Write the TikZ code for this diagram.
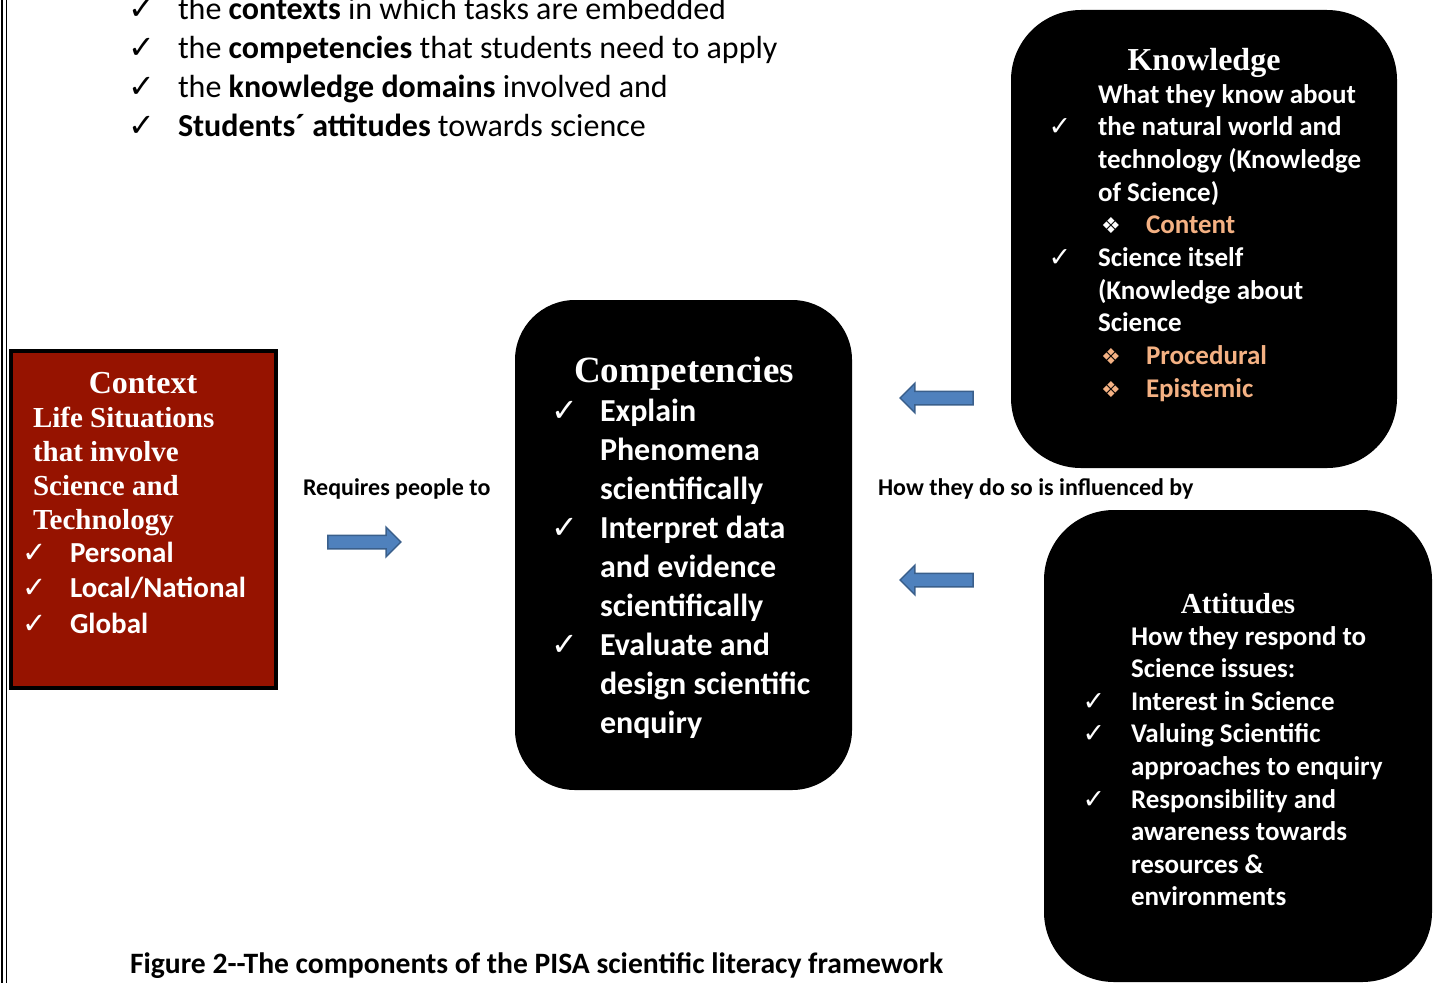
\documentclass[tikz,border=0pt]{standalone}
\usepackage{fontspec}
\setmainfont{Carlito}
\newfontfamily\tnr{Liberation Serif}
\newfontfamily\djv{DejaVu Sans}
\usetikzlibrary{shapes.arrows}
\definecolor{ctxred}{HTML}{961300}
\definecolor{peach}{HTML}{F4B183}
\definecolor{arrfill}{HTML}{4F81BD}
\definecolor{arrdraw}{HTML}{3A5F8B}
\newcommand\ckl[1]{\llap{\makebox[#1][c]{\djv\mdseries\char"2713}}}
\newcommand\dmd{\makebox[48bp][l]{\hspace{3bp}{\djv\mdseries\fontsize{22bp}{22bp}\selectfont\char"2756}}}
\begin{document}
\begin{tikzpicture}[x=1bp,y=-1bp,
  blk/.style={fill=black, draw=none, inner sep=0pt, outer sep=0pt},
  txt/.style={inner sep=0pt, outer sep=0pt, align=left, anchor=base west},
  ttl/.style={inner sep=0pt, outer sep=0pt, anchor=base, text=white},
  barrow/.style={single arrow, draw=arrdraw, fill=arrfill, line width=1.5bp,
    inner sep=6bp, outer sep=0pt, minimum height=73bp,
    single arrow head extend=8bp, single arrow tip angle=90}]
\useasboundingbox (0,0) rectangle (1439,983);
% left page rules
\draw[line width=2.5bp] (2,0) -- (2,983);
\draw[line width=1bp] (6,0) -- (6,983);

% top list (anchor = baseline of last line)
\node[txt, font=\fontsize{32bp}{39bp}\selectfont] (toplist) at (178,136)
 {\ckl{72bp}the \textbf{contexts} in which tasks are embedded\\
  \ckl{72bp}the \textbf{competencies} that students need to apply\\
  \ckl{72bp}the \textbf{knowledge domains} involved and\\
  \ckl{72bp}\textbf{Students\textasciiacute{} attitudes} towards science};

% context box
\node[draw=black, line width=3.5bp, fill=ctxred, minimum width=265bp, minimum height=337bp, inner sep=0pt] (context) at (143.5,519.5) {};
\node[ttl, font=\tnr\bfseries\fontsize{32bp}{32bp}\selectfont] (ctxtitle) at (143,393) {Context};
\node[txt, text=white, font=\tnr\bfseries\fontsize{29bp}{34bp}\selectfont] (ctxbody) at (33,529)
 {Life Situations\\that involve\\Science and\\Technology};
\node[txt, text=white, font=\bfseries\fontsize{29bp}{35.5bp}\selectfont] (ctxitems) at (70,633)
 {\ckl{70bp}Personal\\\ckl{70bp}Local/National\\\ckl{70bp}Global};

% competencies box
\node[blk, rounded corners=60bp, minimum width=337bp, minimum height=490bp] (comp) at (683.5,545) {};
\node[ttl, font=\tnr\bfseries\fontsize{37bp}{37bp}\selectfont] (comptitle) at (684,382) {Competencies};
\node[txt, text=white, font=\bfseries\fontsize{32bp}{39bp}\selectfont] (compbody) at (600,733)
 {\ckl{70bp}Explain\\Phenomena\\scientifically\\
  \ckl{70bp}Interpret data\\and evidence\\scientifically\\
  \ckl{70bp}Evaluate and\\design scientific\\enquiry};

% knowledge box
\node[blk, rounded corners=70bp, minimum width=386bp, minimum height=458bp] (know) at (1204,239) {};
\node[ttl, font=\tnr\bfseries\fontsize{32bp}{32bp}\selectfont] (knowtitle) at (1204,70) {Knowledge};
\node[txt, text=white, font=\bfseries\fontsize{27bp}{32.7bp}\selectfont] (knowbody) at (1098,397.3)
 {What they know about\\
  \ckl{76bp}the natural world and\\
  technology (Knowledge\\
  of Science)\\
  \dmd\textcolor{peach}{Content}\\
  \ckl{76bp}Science itself\\
  (Knowledge about\\
  Science\\
  \textcolor{peach}{\dmd Procedural}\\
  \textcolor{peach}{\dmd Epistemic}};

% attitudes box
\node[blk, rounded corners=70bp, minimum width=388bp, minimum height=472bp] (att) at (1238,746) {};
\node[ttl, font=\tnr\bfseries\fontsize{29bp}{29bp}\selectfont] (atttitle) at (1238,613) {Attitudes};
\node[txt, text=white, font=\bfseries\fontsize{27bp}{32.6bp}\selectfont] (attbody) at (1131,905.8)
 {How they respond to\\
  Science issues:\\
  \ckl{74bp}Interest in Science\\
  \ckl{74bp}Valuing Scientific\\
  approaches to enquiry\\
  \ckl{74bp}Responsibility and\\
  awareness towards\\
  resources \&\\
  environments};

% labels
\node[txt, font=\bfseries\fontsize{24bp}{24bp}\selectfont] (req) at (303,495) {Requires people to};
\node[txt, font=\bfseries\fontsize{24bp}{24bp}\selectfont] (how) at (878,495) {How they do so is influenced by};

% block arrows
\node[barrow] (arrR) at (361,542) {};
\node[barrow, shape border rotate=180] (arrK) at (940,398) {};
\node[barrow, shape border rotate=180] (arrA) at (940,580) {};

% caption
\node[txt, font=\bfseries\fontsize{29.6bp}{29.6bp}\selectfont] (caption) at (130,973)
 {Figure 2-{}-The components of the PISA scientific literacy framework};
\end{tikzpicture}
\end{document}
